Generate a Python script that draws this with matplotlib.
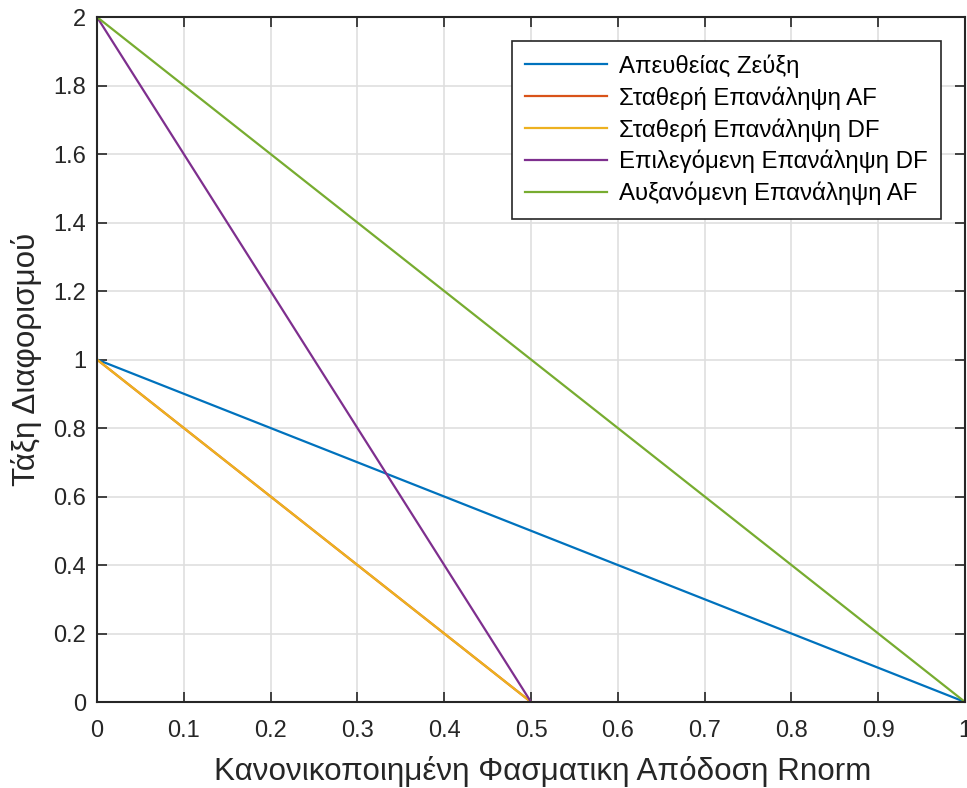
import matplotlib.pyplot as plt
import numpy as np

# Δεδομένα
rnorm = [0, 0.5, 1]
apeutheias = [1, 0.5, 0]
statheri_af = [1, 0, np.nan]
statheri_df = [1, 0, np.nan]
epilegomeni_df = [2, 0, np.nan]
afxanomeni_af = [2, 1, 0]

labels = ['Απευθείας Ζεύξη', 'Σταθερή Επανάληψη AF', 'Σταθερή Επανάληψη DF',
          'Επιλεγόμενη Επανάληψη DF', 'Αυξανόμενη Επανάληψη AF']
colors = ['#0072BD', '#D95319', '#EDB120', '#7E2F8E', '#77AC30']
series = [apeutheias, statheri_af, statheri_df, epilegomeni_df, afxanomeni_af]
xticklabels = ['0', '0.1', '0.2', '0.3', '0.4', '0.5', '0.6', '0.7', '0.8', '0.9', '1']
yticklabels = ['0', '0.2', '0.4', '0.6', '0.8', '1', '1.2', '1.4', '1.6', '1.8', '2']

plt.rcParams['font.family'] = ['Liberation Sans', 'DejaVu Sans']

fig = plt.figure(figsize=(9.67, 7.88), dpi=100)
ax = fig.add_axes([0.1003, 0.1091, 0.8977, 0.8693])

for y, c, lab in zip(series, colors, labels):
    ax.plot(rnorm, y, color=c, lw=1.6, label=lab)

ax.set_xlim(0, 1)
ax.set_ylim(0, 2)
ax.set_xticks(np.linspace(0, 1, 11))
ax.set_xticklabels(xticklabels)
ax.set_yticks(np.linspace(0, 2, 11))
ax.set_yticklabels(yticklabels)
ax.grid(True, color='#dfdfdf', lw=1.2)
ax.set_axisbelow(True)
ax.tick_params(direction='in', top=True, right=True, labelsize=17, colors='#262626',
               length=7, width=1.2)
ax.tick_params(axis='x', pad=13)
ax.tick_params(axis='y', pad=8)
for s in ax.spines.values():
    s.set_color('#262626')
    s.set_linewidth(1.5)
for t in ax.get_xticklabels() + ax.get_yticklabels():
    t.set_color('#262626')

ax.set_xlabel('Κανονικοποιημένη Φασματικη Απόδοση Rnorm', fontsize=22.6, color='#262626',
              labelpad=10, x=0.513)
ax.set_ylabel('Τάξη Διαφορισμού', fontsize=22.6, color='#262626', labelpad=8)

leg = ax.legend(loc='upper right', bbox_to_anchor=(0.972, 0.965), fontsize=17.3,
                fancybox=False, edgecolor='#262626', framealpha=1,
                handlelength=3.4, handletextpad=0.5, borderpad=0.55, labelspacing=0.35,
                borderaxespad=0)
leg.get_frame().set_linewidth(1.2)

fig.savefig('out.png', dpi=100)
